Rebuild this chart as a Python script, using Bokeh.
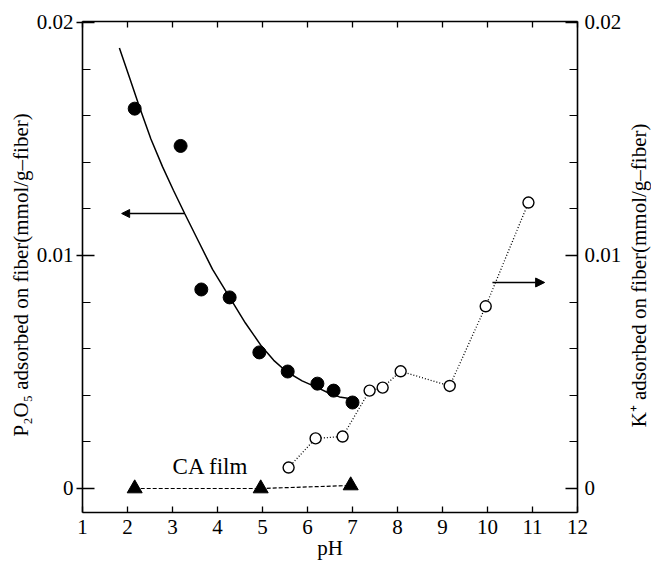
from bokeh.plotting import figure
from bokeh.layouts import row
from bokeh.models import (LinearAxis, FixedTicker, CustomJSTickFormatter, Range1d,
                          Arrow, NormalHead, Label, ColumnDataSource)
from bokeh.embed import file_html
from bokeh.resources import INLINE
import math

# ---- data ----
ph_p2o5 = [2.16, 3.18, 3.64, 4.27, 4.93, 5.56, 6.22, 6.58, 7.00]
p2o5 = [0.01630, 0.01470, 0.00854, 0.00820, 0.00584, 0.00502, 0.00450, 0.00420, 0.00369]

fit_ph = [1.82, 2.05, 2.27, 2.52, 2.78, 3.02, 3.27, 3.58, 3.89, 4.08, 4.27, 4.62,
          4.98, 5.25, 5.53, 5.88, 6.22, 6.47, 6.71, 6.93, 7.05]
fit_p2o5 = [0.0189, 0.0176, 0.01635, 0.0150, 0.0138, 0.0128, 0.0118, 0.0106, 0.0094,
            0.0088, 0.0082, 0.0071, 0.0061, 0.0055, 0.00502, 0.00462, 0.00433, 0.0041,
            0.00393, 0.00386, 0.00385]

ph_k = [5.58, 6.18, 6.78, 7.38, 7.67, 8.07, 9.16, 9.96, 10.91]
k_ads = [0.00090, 0.00215, 0.00223, 0.00420, 0.00433, 0.00503, 0.00440, 0.00782, 0.01227]

ph_ca = [2.16, 4.96, 6.96]
ca_film = [0.0, 0.0, 0.00013]

x_ticks = [1, 2, 3, 4, 5, 6, 7, 8, 9, 10, 11, 12]
y_major = [0.0, 0.01, 0.02]
y_minor = [0.002, 0.004, 0.006, 0.008, 0.012, 0.014, 0.016, 0.018]

FONT = "Liberation Serif"
INK = "black"

yr = Range1d(-0.00103, 0.02004)
p = figure(width=625, height=565, x_range=Range1d(1, 12), y_range=yr,
           output_backend="svg", toolbar_location=None,
           min_border_left=82, min_border_right=48, min_border_top=21, min_border_bottom=53)
p.xgrid.visible = False
p.ygrid.visible = False
p.outline_line_color = None
p.background_fill_color = "white"
p.border_fill_color = "white"

yfmt = CustomJSTickFormatter(code="return tick == 0 ? '0' : tick.toFixed(2);")


def style_axis(ax, tick_in, tick_out, minor_in=None):
    ax.axis_line_color = INK
    ax.axis_line_width = 1.6
    ax.major_tick_line_color = INK
    ax.major_tick_line_width = 1.3
    ax.major_tick_in = tick_in
    ax.major_tick_out = tick_out
    if minor_in is None:
        ax.minor_tick_line_color = None
    else:
        ax.minor_tick_line_color = INK
        ax.minor_tick_line_width = 1.2
        ax.minor_tick_in = minor_in
        ax.minor_tick_out = 0
    ax.major_label_text_font = FONT
    ax.major_label_text_font_size = "21px"
    ax.major_label_text_color = INK
    ax.axis_label_text_font = FONT
    ax.axis_label_text_font_style = "normal"
    ax.axis_label_text_font_size = "21px"
    ax.axis_label_text_color = INK


# bottom axis
xa = p.xaxis[0]
xa.ticker = FixedTicker(ticks=x_ticks)
style_axis(xa, 6, 0)
xa.major_label_standoff = 7
xa.axis_label = "pH"
xa.axis_label_standoff = -1

# left axis
ya = p.yaxis[0]
ya.ticker = FixedTicker(ticks=y_major, minor_ticks=y_minor)
ya.formatter = yfmt
style_axis(ya, 12, 6, 8)
ya.major_label_standoff = 3
ya.axis_label = "P\u2082O\u2085  adsorbed  on  fiber(mmol/g\u2013fiber)"
ya.axis_label_standoff = 1

# right axis
ra = LinearAxis(ticker=FixedTicker(ticks=y_major, minor_ticks=y_minor), formatter=yfmt)
style_axis(ra, 12, 0, 8)
ra.major_label_standoff = 7
p.add_layout(ra, "right")

# top axis (ticks only)
ta = LinearAxis(ticker=FixedTicker(ticks=x_ticks))
style_axis(ta, 6, 0)
ta.major_label_text_color = None
ta.major_label_standoff = 0
p.add_layout(ta, "above")

# CA film (dashed)
ca_src = ColumnDataSource(dict(x=ph_ca, y=ca_film))
p.line("x", "y", source=ca_src, line_color=INK, line_width=1.2, line_dash="4 2")
p.scatter("x", "y", source=ca_src, marker="triangle", size=15, fill_color=INK, line_color=INK)

# K+ (dotted, open circles)
k_src = ColumnDataSource(dict(x=ph_k, y=k_ads))
p.line("x", "y", source=k_src, line_color=INK, line_width=1.3, line_dash="1 2")
p.scatter("x", "y", source=k_src, marker="circle", size=11, fill_color="white",
          line_color=INK, line_width=1.4)

# P2O5 fit curve and points
p.line(fit_ph, fit_p2o5, line_color=INK, line_width=1.5)
p.scatter(ph_p2o5, p2o5, marker="circle", size=13, fill_color=INK, line_color=INK)

# arrows
p.add_layout(Arrow(end=NormalHead(size=8, fill_color=INK, line_color=INK),
                   x_start=3.27, y_start=0.0118, x_end=1.87, y_end=0.0118,
                   line_color=INK, line_width=1.6))
p.add_layout(Arrow(end=NormalHead(size=9, fill_color=INK, line_color=INK),
                   x_start=10.11, y_start=0.00884, x_end=11.27, y_end=0.00884,
                   line_color=INK, line_width=1.6))

p.add_layout(Label(x=3.91, y=0.00094, text="CA  film", text_font=FONT, text_font_size="23px",
                   text_align="center", text_baseline="middle", text_color=INK))

# narrow strip on the right holding the right-hand axis title (reads bottom to top)
side = figure(width=26, height=565, x_range=Range1d(0, 1), y_range=yr,
              output_backend="svg", toolbar_location=None,
              x_axis_location=None, y_axis_location=None,
              min_border_left=0, min_border_right=0, min_border_top=21, min_border_bottom=53)
side.outline_line_color = None
side.grid.visible = False
side.background_fill_color = "white"
side.border_fill_color = "white"
side.add_layout(Label(x=0.5, y=0.00948, angle=math.pi / 2,
                      text="K\u207a  adsorbed  on  fiber(mmol/g\u2013fiber)",
                      text_font=FONT, text_font_size="21px",
                      text_align="center", text_baseline="middle", text_color=INK))

layout = row(p, side)
open("out.html", "w").write(file_html(layout, INLINE))
